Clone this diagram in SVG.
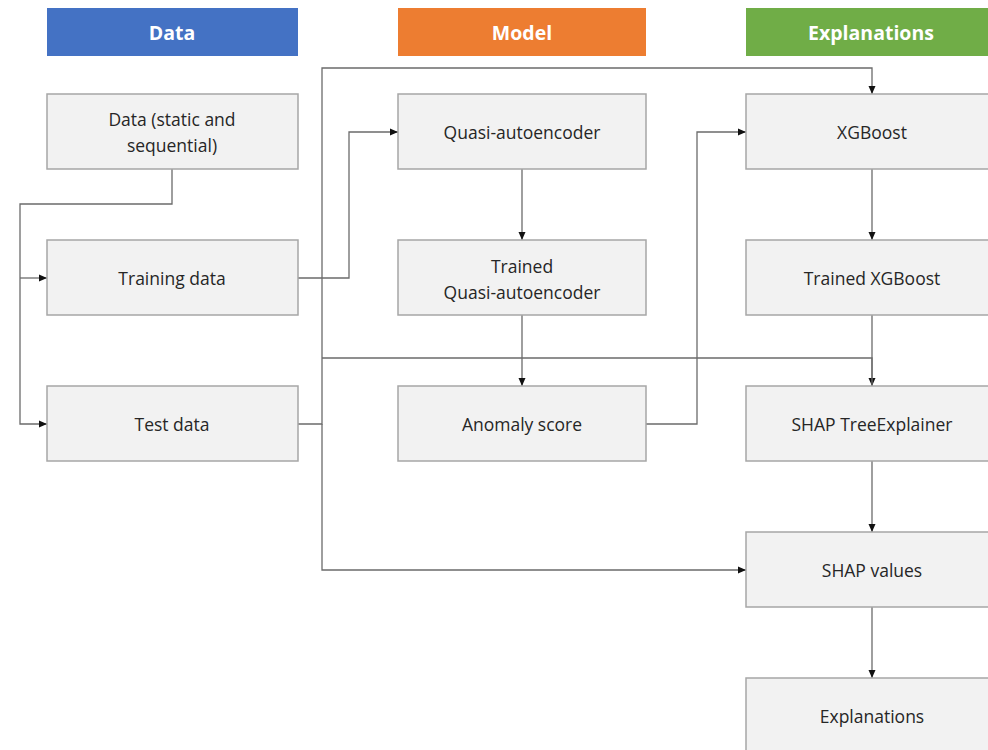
<svg xmlns="http://www.w3.org/2000/svg" width="988" height="750" viewBox="0 0 988 750">
  <style>
    .hdr { stroke: none; }
    .hdr-t { font-family: "Open Sans", "Noto Sans", sans-serif; font-size: 19.5px; font-weight: bold; fill: #ffffff; text-anchor: middle; dominant-baseline: central; }
    .box { fill: #f2f2f2; stroke: #a6a6a6; stroke-width: 1.5; }
    .lbl { font-family: "Open Sans", "Noto Sans", sans-serif; font-size: 17.5px; fill: #262626; text-anchor: middle; dominant-baseline: central; }
    .wire { fill: none; stroke: #6b6b6b; stroke-width: 1.3; }
  </style>
  <defs>
    <marker id="arrow" markerWidth="8" markerHeight="8" refX="8" refY="4" orient="auto" markerUnits="userSpaceOnUse">
      <path d="M0,0.5 L8,4 L0,7.5 Z" fill="#111111"/>
    </marker>
  </defs>
  <rect width="988" height="750" fill="#ffffff"/>

  <!-- column headers -->
  <g id="header-data">
    <rect class="hdr" x="47" y="8" width="251" height="48" fill="#4472c4"/>
    <text class="hdr-t" x="172" y="32">Data</text>
  </g>
  <g id="header-model">
    <rect class="hdr" x="398" y="8" width="248" height="48" fill="#ed7d31"/>
    <text class="hdr-t" x="522" y="32">Model</text>
  </g>
  <g id="header-explanations">
    <rect class="hdr" x="746" y="8" width="252" height="48" fill="#70ad47"/>
    <text class="hdr-t" x="871" y="32">Explanations</text>
  </g>

  <!-- connectors -->
  <g id="connectors">
    <!-- raw data split into training / test -->
    <path class="wire" d="M172,169 V204 H20 V424 H47" marker-end="url(#arrow)"/>
    <path class="wire" d="M20,278 H47" marker-end="url(#arrow)"/>
    <!-- training data to quasi-autoencoder -->
    <path class="wire" d="M298,278 H349 V132 H398" marker-end="url(#arrow)"/>
    <!-- test data fan-out -->
    <path class="wire" d="M298,424 H322 V68 H872 V94" marker-end="url(#arrow)"/>
    <path class="wire" d="M322,358 H872 V386" marker-end="url(#arrow)"/>
    <path class="wire" d="M322,424 V570 H746" marker-end="url(#arrow)"/>
    <!-- model column -->
    <path class="wire" d="M522,169 V240" marker-end="url(#arrow)"/>
    <path class="wire" d="M522,315 V386" marker-end="url(#arrow)"/>
    <!-- anomaly score to XGBoost -->
    <path class="wire" d="M646,424 H697 V132 H746" marker-end="url(#arrow)"/>
    <!-- explanations column -->
    <path class="wire" d="M872,169 V240" marker-end="url(#arrow)"/>
    <path class="wire" d="M872,315 V386"/>
    <path class="wire" d="M872,461 V532" marker-end="url(#arrow)"/>
    <path class="wire" d="M872,607 V678" marker-end="url(#arrow)"/>
  </g>

  <!-- data column -->
  <g id="node-data">
    <rect class="box" x="47" y="94" width="251" height="75"/>
    <text class="lbl" x="172" y="119">Data (static and</text>
    <text class="lbl" x="172" y="145">sequential)</text>
  </g>
  <g id="node-training">
    <rect class="box" x="47" y="240" width="251" height="75"/>
    <text class="lbl" x="172" y="278">Training data</text>
  </g>
  <g id="node-test">
    <rect class="box" x="47" y="386" width="251" height="75"/>
    <text class="lbl" x="172" y="424">Test data</text>
  </g>

  <!-- model column -->
  <g id="node-qae">
    <rect class="box" x="398" y="94" width="248" height="75"/>
    <text class="lbl" x="522" y="132">Quasi-autoencoder</text>
  </g>
  <g id="node-trained-qae">
    <rect class="box" x="398" y="240" width="248" height="75"/>
    <text class="lbl" x="522" y="266">Trained</text>
    <text class="lbl" x="522" y="292">Quasi-autoencoder</text>
  </g>
  <g id="node-anomaly">
    <rect class="box" x="398" y="386" width="248" height="75"/>
    <text class="lbl" x="522" y="424">Anomaly score</text>
  </g>

  <!-- explanations column -->
  <g id="node-xgb">
    <rect class="box" x="746" y="94" width="252" height="75"/>
    <text class="lbl" x="872" y="132">XGBoost</text>
  </g>
  <g id="node-trained-xgb">
    <rect class="box" x="746" y="240" width="252" height="75"/>
    <text class="lbl" x="872" y="278">Trained XGBoost</text>
  </g>
  <g id="node-tree-explainer">
    <rect class="box" x="746" y="386" width="252" height="75"/>
    <text class="lbl" x="872" y="424">SHAP TreeExplainer</text>
  </g>
  <g id="node-shap-values">
    <rect class="box" x="746" y="532" width="252" height="75"/>
    <text class="lbl" x="872" y="570">SHAP values</text>
  </g>
  <g id="node-explanations">
    <rect class="box" x="746" y="678" width="252" height="80"/>
    <text class="lbl" x="872" y="716">Explanations</text>
  </g>
</svg>
